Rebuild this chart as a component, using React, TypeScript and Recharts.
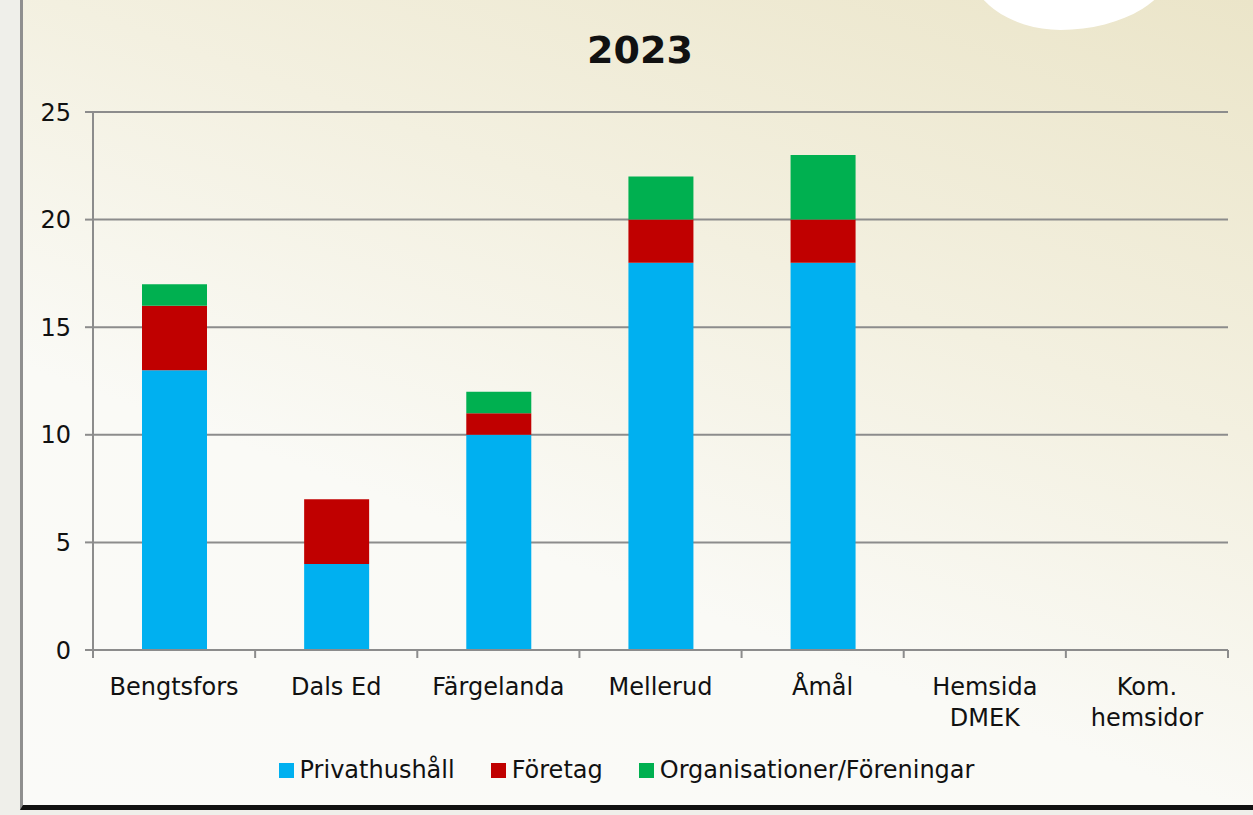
import { Bar, BarChart, CartesianGrid, XAxis, YAxis } from 'recharts'

const categories = ['Bengtsfors', 'Dals Ed', 'Färgelanda', 'Mellerud', 'Åmål', 'Hemsida DMEK', 'Kom. hemsidor']
const privathushall = [13, 4, 10, 18, 18, 0, 0]
const foretag = [3, 3, 1, 2, 2, 0, 0]
const organisationer = [1, 0, 1, 2, 3, 0, 0]
const yTicks = [0, 5, 10, 15, 20, 25]

const data = categories.map((name, i) => ({
  name,
  privat: privathushall[i],
  foretag: foretag[i],
  org: organisationer[i],
}))

const W = 1253
const H = 815
// bottom = 815 - 650 (plot bottom) - x axis height (80)
const M = { top: 112, right: 25, left: 0, bottom: 85 }
const Y_W = 93
const BAND = (W - M.left - M.right - Y_W) / categories.length
const FONT = '"DejaVu Sans", "Noto Sans", sans-serif'
const GRID = '#8c8c8c'

const series = [
  { key: 'privat', label: 'Privathushåll', color: '#00b0f0' },
  { key: 'foretag', label: 'Företag', color: '#c00000' },
  { key: 'org', label: 'Organisationer/Föreningar', color: '#00b050' },
]

function XTick(props: any) {
  const { x, y, payload, index } = props
  const name: string = payload.value
  const lines = name.includes(' ') && name.length > 10 ? name.split(' ') : [name]
  const top = y - 8
  return (
    <g>
      <line x1={x - BAND / 2} x2={x - BAND / 2} y1={top} y2={top + 8} stroke={GRID} strokeWidth={2} />
      {index === categories.length - 1 && (
        <line x1={x + BAND / 2} x2={x + BAND / 2} y1={top} y2={top + 8} stroke={GRID} strokeWidth={2} />
      )}
      {lines.map((l, i) => (
        <text
          key={i}
          x={x}
          y={top + 45 + i * 31}
          textAnchor="middle"
          fontSize={24}
          fontFamily={FONT}
          fill="#111"
        >
          {l}
        </text>
      ))}
    </g>
  )
}

function LegendContent() {
  return (
    <div style={{ display: 'flex', justifyContent: 'center', gap: 36, fontFamily: FONT, fontSize: 24, color: '#111' }}>
      {series.map((s) => (
        <div key={s.key} style={{ display: 'flex', alignItems: 'center', gap: 6 }}>
          <span style={{ width: 15, height: 15, background: s.color, display: 'inline-block' }} />
          <span>{s.label}</span>
        </div>
      ))}
    </div>
  )
}

export default function App() {
  return (
    <div
      style={{
        position: 'absolute',
        left: 0,
        top: 0,
        width: W,
        height: H,
        overflow: 'hidden',
        background: '#efefea',
      }}
    >
      <div
        style={{
          position: 'absolute',
          left: 20,
          top: 0,
          width: W - 20,
          height: H - 5,
          borderLeft: '3px solid #8f8f8f',
          borderBottom: '5px solid #111',
          background: 'linear-gradient(200deg, #ebe5c9 0%, #f3f0e0 35%, #fafaf6 65%, #fafaf8 100%)',
          boxSizing: 'border-box',
        }}
      />
      <div
        style={{
          position: 'absolute',
          left: 966,
          top: -90,
          width: 210,
          height: 120,
          background: '#fff',
          borderRadius: '50% 50% 55% 45% / 40% 40% 60% 60%',
        }}
      />
      <div
        style={{
          position: 'absolute',
          left: 440,
          width: 400,
          top: 28,
          textAlign: 'center',
          fontFamily: FONT,
          fontWeight: 'bold',
          fontSize: 38,
          color: '#111',
        }}
      >
        2023
      </div>
      <div style={{ position: 'absolute', left: 0, top: 0 }}>
        <BarChart width={W} height={H} data={data} margin={M}>
          <CartesianGrid horizontal vertical={false} stroke={GRID} strokeWidth={2} />
          <XAxis
            dataKey="name"
            interval={0}
            tickLine={false}
            axisLine={{ stroke: GRID, strokeWidth: 2 }}
            tick={<XTick />}
            height={80}
          />
          <YAxis
            width={Y_W}
            domain={[0, 25]}
            ticks={yTicks}
            interval={0}
            axisLine={{ stroke: GRID, strokeWidth: 2 }}
            tickLine={{ stroke: GRID, strokeWidth: 2 }}
            tickSize={8}
            tickMargin={14}
            tick={{ fontSize: 24, fill: '#111', fontFamily: FONT }}
          />
          {series.map((s) => (
            <Bar
              key={s.key}
              dataKey={s.key}
              stackId="a"
              fill={s.color}
              barSize={65}
              isAnimationActive={false}
            />
          ))}
        </BarChart>
      </div>
      <div style={{ position: 'absolute', top: 756, left: 0, width: W }}>
        <LegendContent />
      </div>
    </div>
  )
}
